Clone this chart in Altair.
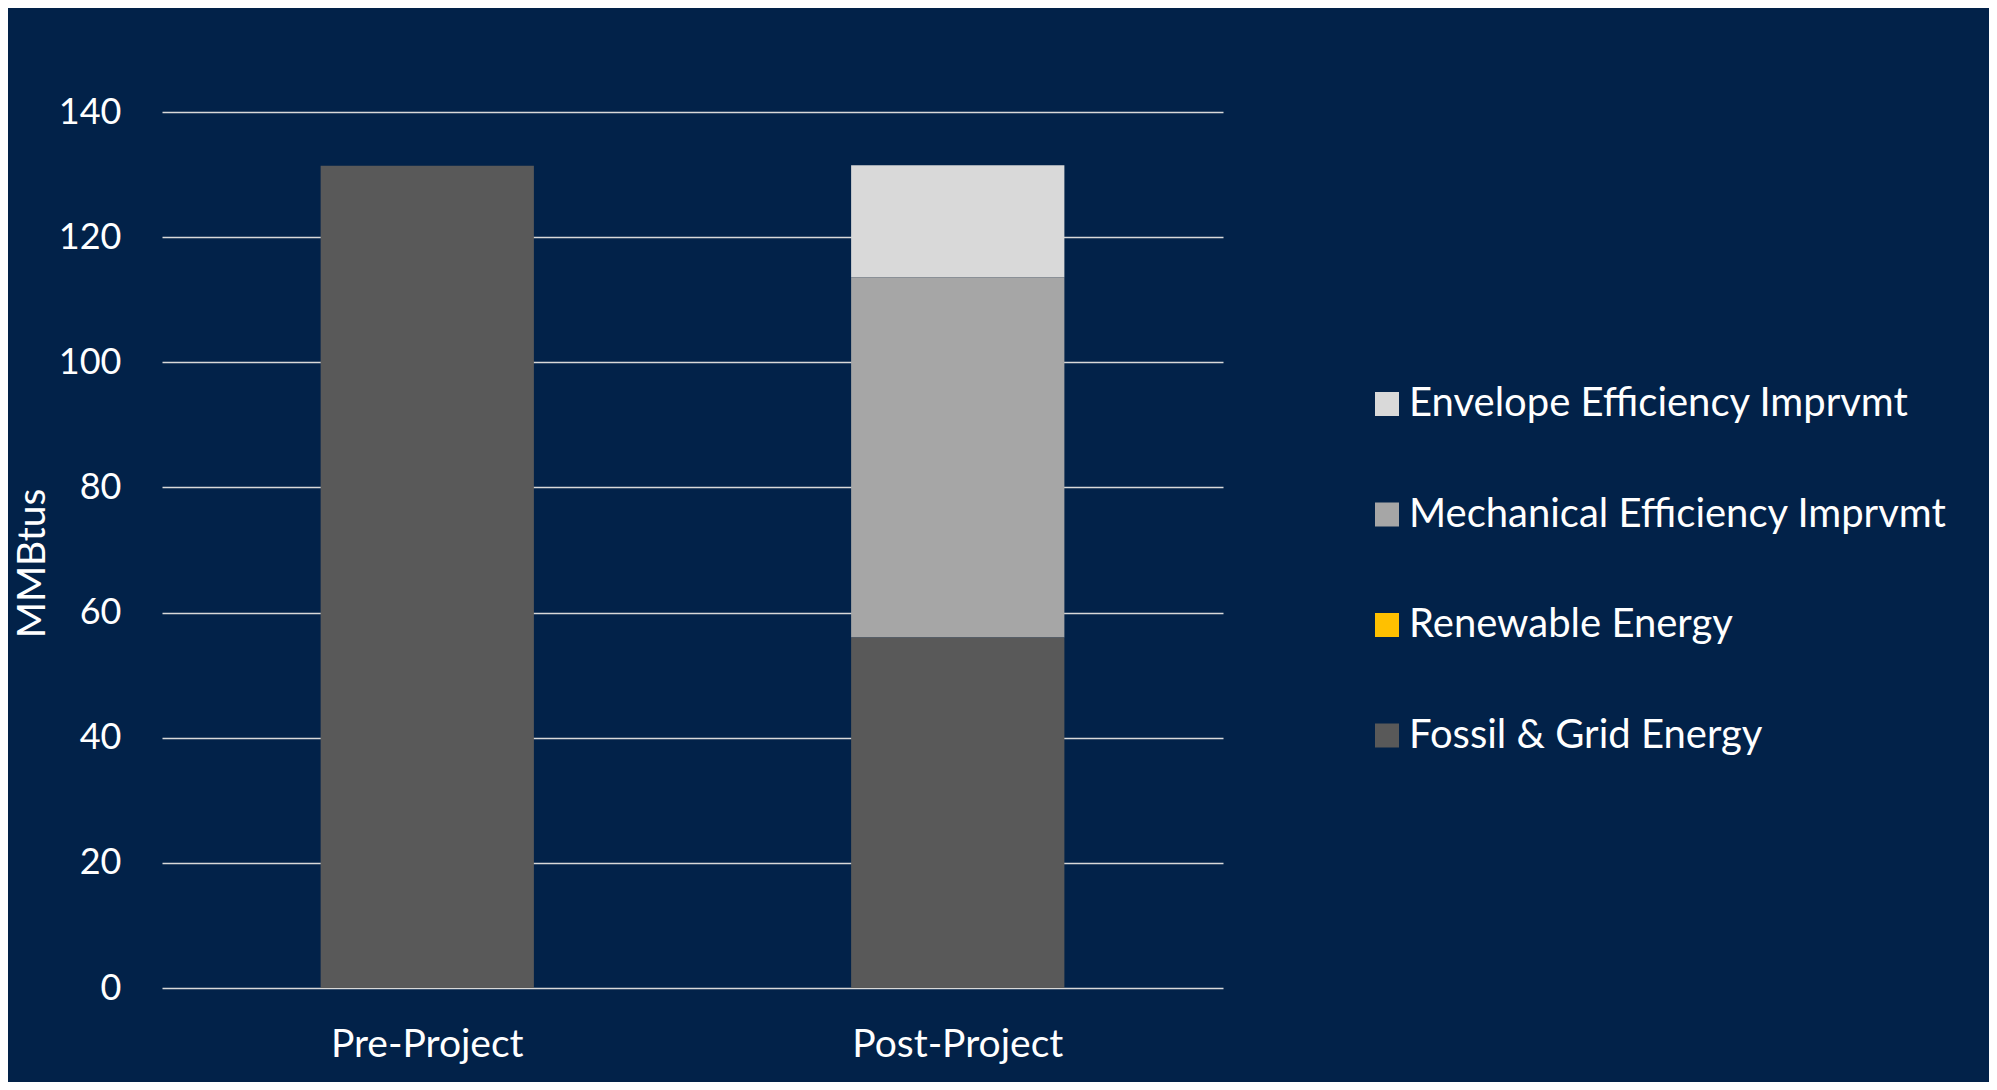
import altair as alt
import pandas as pd

categories = ["Pre-Project", "Post-Project"]
series = ["Envelope Efficiency Imprvmt", "Mechanical Efficiency Imprvmt", "Renewable Energy", "Fossil & Grid Energy"]
colors = ["#D9D9D9", "#A6A6A6", "#FFC000", "#595959"]
stack_order = [3, 2, 1, 0]
pre_values = [0, 0, 0, 131.4]
post_values = [17.9, 57.6, 0, 56.0]
y_ticks = [0, 20, 40, 60, 80, 100, 120, 140]

rows = []
for cat, vals in zip(categories, [pre_values, post_values]):
    for s, v, o in zip(series, vals, stack_order):
        rows.append({"Project": cat, "Series": s, "Value": v, "Order": o})
df = pd.DataFrame(rows)

FONT = "Lato"
BG = "#022249"

chart = alt.Chart(df).mark_bar(width=alt.RelativeBandSize(0.402)).encode(
    x=alt.X("Project:N", sort=categories,
            scale=alt.Scale(paddingInner=0, paddingOuter=0),
            axis=alt.Axis(title=None, labelAngle=0, domain=False, ticks=False,
                          labelFont=FONT, labelFontSize=39, labelColor="#FFFFFF",
                          labelPadding=56, labelBaseline="middle", labelLimit=0, grid=False)),
    y=alt.Y("Value:Q", stack="zero",
            scale=alt.Scale(domain=[0, 140], nice=False),
            axis=alt.Axis(title="MMBtus", values=y_ticks, domain=False, ticks=False,
                          labelFont=FONT, labelFontSize=36, labelColor="#FFFFFF",
                          labelPadding=41, grid=True, gridColor="#D9D9D9", gridWidth=1.6,
                          titleFont=FONT, titleFontSize=39, titleColor="#FFFFFF",
                          titleFontWeight="normal", titleAngle=270,
                          titleX=-130, titleY=451, titleAlign="center", titleBaseline="middle")),
    color=alt.Color("Series:N", sort=series,
                    scale=alt.Scale(domain=series, range=colors),
                    legend=alt.Legend(title=None, orient="none", legendX=1205, legendY=272,
                                      symbolType="square", symbolSize=576, symbolStrokeWidth=0,
                                      labelFont=FONT, labelFontSize=40, labelColor="#FFFFFF",
                                      labelOffset=2, rowPadding=70.5, padding=0,
                                      labelLimit=0)),
    order=alt.Order("Order:Q", sort="ascending"),
).properties(
    width=1061, height=876,
    background=BG,
    autosize=alt.AutoSizeParams(type="none"),
    padding={"left": 154, "top": 104, "right": 766, "bottom": 94},
).configure_view(stroke=None)

chart.save("out.html", embed_options={"renderer": "svg", "actions": False})
